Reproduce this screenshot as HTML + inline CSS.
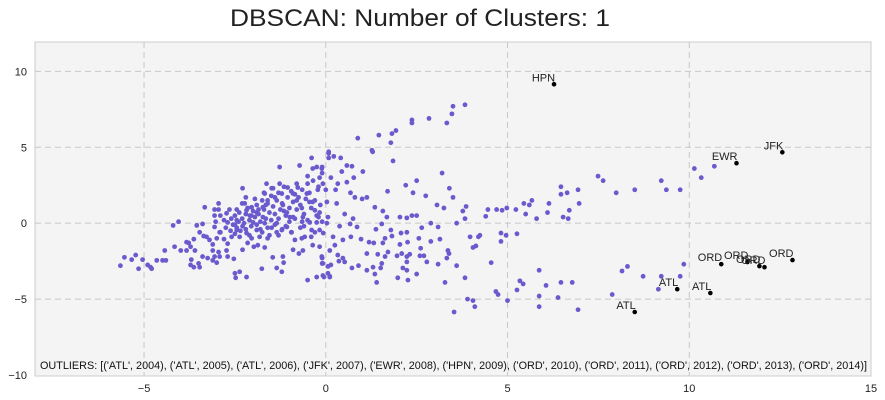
<!DOCTYPE html>
<html><head><meta charset="utf-8"><style>
html,body{margin:0;padding:0;background:#fff;}
svg{display:block;font-family:"Liberation Sans",sans-serif;}
</style></head><body>
<svg id="chart" width="885" height="400" viewBox="0 0 885 400">
<text x="230" y="26" font-size="24" textLength="380" lengthAdjust="spacingAndGlyphs" fill="#222">DBSCAN: Number of Clusters: 1</text>
<rect x="35" y="42" width="836" height="334" fill="#f4f4f4" stroke="#ccc"/>
<g id="grid"></g>
<g id="ticks"></g>
<g id="pts"></g>
<g id="outs"></g>
<text x="40" y="369" font-size="11" textLength="827" lengthAdjust="spacingAndGlyphs" fill="#111">OUTLIERS: [('ATL', 2004), ('ATL', 2005), ('ATL', 2006), ('JFK', 2007), ('EWR', 2008), ('HPN', 2009), ('ORD', 2010), ('ORD', 2011), ('ORD', 2012), ('ORD', 2013), ('ORD', 2014)]</text>
</svg>
<script>
const xTicks=[-5,0,5,10,15];
const yTicks=[10,5,0,-5,-10];
const clusterPoints=[
[0.88,5.6],[1.46,5.8],[1.82,5.9],[1.93,6.1],[1.79,5.3],[1.85,4.1],[1.27,4.8],[1.29,4.7],[2.37,6.8],[2.37,6.6],[2.84,6.9],[3.33,6.6],[3.47,7.2],[3.5,7.7],[3.83,7.8],
[3.2,3.3],[2.5,2.8],[3.4,2.3],[3.5,1.7],[2.75,1.8],[2.2,2.5],[1.7,2.1],[2.4,2.0],[3.06,1.2],[3.25,1.0],[3.86,1.1],[3.77,0.8],[3.83,0.3],[3.6,0],
[4.4,0.45],[4.46,0.9],[4.7,0.9],[4.85,0.85],[4.98,1.0],[5.23,0.9],[5.45,1.3],[5.6,1.2],[5.67,1.5],[5.8,0.3],[5.5,0.6],[6.14,1.3],[6.1,0.7],[6.47,2.4],[6.47,1.9],[6.64,2.0],[6.94,2.2],[6.97,1.3],[6.7,0.85],[6.53,0.4],[6.67,0.3],[7.49,3.1],[7.63,2.8],[7.99,2.0],
[8.5,2.2],[9.23,2.8],[9.37,2.2],[9.75,2.2],[10.14,3.6],[10.33,3.0],[10.69,3.75],
[3.97,-0.9],[4.2,-0.9],[4.24,-0.8],[4.13,-1.5],[4.05,-1.6],[4.82,-0.65],[4.96,-0.8],[4.82,-1.2],[5.26,-0.7],[4.55,-2.6],[3.6,-2.8],[3.36,-1.8],[3.39,-2.0],[3.33,-2.3],[3.09,-2.7],[3.28,-3.9],[3.83,-3.6],[3.9,-5.0],[4.05,-5.1],[4.1,-5.5],[3.53,-5.85],
[4.68,-4.5],[4.74,-4.7],[5.0,-5.1],[5.26,-4.4],[5.34,-3.8],[5.43,-4.0],[5.87,-3.1],[6.06,-4.1],[5.87,-4.8],[5.87,-5.5],[6.39,-4.9],[6.47,-3.9],[6.78,-3.9],[6.94,-5.7],[7.88,-4.7],
[8.15,-3.15],[8.3,-2.85],[8.73,-3.5],[9.23,-3.5],[9.75,-3.5],[9.85,-2.7],[9.15,-4.35],
[1.68,0.4],[1.57,0.8],[1.35,1.05],[1.13,1.7],[1.0,1.6],[0.8,1.7],[0.68,2.0],[1.02,3.4],[0.77,3.0],[0.58,2.7],[0.72,3.75],[0.58,3.8],[0.41,4.3],[0.22,4.4],[0.08,4.7],[0.08,4.3],[0.44,3.4],[0.33,2.6],[0.27,2.2],[0.14,3.0],[0,2.2],[-0.1,3.7],[0.03,1.4],[0.3,1.3],[0.52,0.6],[0.75,0.3],[0.86,-0.25],[0.67,-0.05],[0.38,-0.2],[0.06,0.4],
[-0.07,-0.65],[0.2,-0.9],[0.25,-1.45],[0.47,-1.1],[0.69,-0.9],[0.97,-1.05],[1.19,-1.25],[1.38,-0.4],[1.54,-0.05],[1.79,-0.45],[2.04,0.4],[2.23,0.35],[2.37,0.5],[2.5,0.5],[2.64,-0.3],[2.89,0],[3.09,-0.25],[2.56,-1.0],[2.23,-0.6],[2.07,-0.65],[2.04,-1.4],[2.25,-1.25],[1.82,-0.85],[1.63,-1.0],[1.57,-1.3],[1.32,-1.3],
[1.13,-2.0],[1.43,-2.05],[1.63,-2.2],[1.71,-1.9],[1.96,-2.15],[2.09,-2.0],[2.23,-2.2],[2.31,-2.05],[2.59,-2.15],[2.7,-2.15],[2.78,-2.55],[2.61,-1.65],[2.89,-1.2],[3.14,-1.05],[2.23,-2.55],[2.12,-2.95],[2.23,-3.1],[2.26,-3.75],[2.5,-3.35],[1.98,-3.6],[1.54,-2.65],[1.51,-2.95],[1.3,-2.9],[1.35,-3.35],[1.4,-3.9],[1.13,-3.1],[0.9,-2.8],[0.72,-2.95],[0.52,-2.55],[0.36,-2.5],[0.47,-2.3],[0.33,-2.1],[0.14,-2.75],[0.06,-3.3],[-0.05,-3.55],[0.11,-3.5],[-0.1,-2.65],[-0.1,-2.3],
[-5.65,-2.8],[-5.54,-2.25],[-5.34,-2.4],[-5.23,-2.1],[-5.15,-3.0],[-5.04,-2.4],[-4.9,-2.75],[-4.82,-2.9],[-4.79,-3.0],[-4.65,-2.45],[-4.49,-2.45],[-4.4,-2.45],[-4.43,-1.8],[-4.2,-0.15],[-4.05,0.1],[-4.16,-1.55],[-3.99,-1.8],
[-3.83,-1.25],[-3.77,-1.3],[-3.72,-1.55],[-3.63,-1.05],[-3.6,-1.8],[-3.83,-1.8],[-3.7,-2.4],[-3.72,-2.75],[-3.63,-2.9],[-3.47,-2.9],[-3.5,-2.65],[-3.55,-0.15],[-3.39,-0.05],[-3.47,-0.6],[-3.33,1.05],[-3.36,-0.85],[-3.28,-0.9],[-3.2,-1.1],[-3.39,-2.2],[-3.25,-2.3],[-3.11,-2.45],[-3.0,-2.6],[-3.06,-2.2],[-2.92,-2.2],[-2.95,-1.9],[-3.11,-1.8],[-3.11,-1.4],[-3.0,-1.0],[-2.92,-0.6],[-3.06,-0.25],[-3.03,0.1],[-3.06,0.5],[-2.95,0.9],[-2.95,1.3],[-3.06,0.9],
[-2.73,0.65],[-2.7,0.05],[-2.62,-0.5],[-2.8,-1.05],[-2.7,-1.35],[-2.73,-1.8],[-2.53,-2.35],[-2.7,-2.2],[-2.5,-3.3],[-2.37,-3.2],[-2.48,-3.6],[-2.18,-3.55],[-1.76,-3.0],[-1.46,-2.25],[-1.18,-2.2],[-1.16,-2.6],[-1.35,-2.95],[-1.21,-3.2],
[-2.29,-0.2],[-2.29,2.3],[-2.45,-0.45],[-2.5,-0.1],[-2.45,0.2],[-2.59,-0.9],[-2.37,-0.9],[-2.18,-0.65],[-2.04,-1.0],[-2.15,-1.3],[-2.29,-1.75],[-1.98,-1.55],[-1.87,-1.45],[-1.68,-1.6],[-1.6,-1.0],[-1.82,-0.9],[-1.9,-0.45],[-2.0,0.05],[-2.09,0.5],[-2.18,0.85],[-2.23,1.3],[-2.04,1.05],[-1.9,0.7],[-1.73,0.4],[-1.68,0],[-1.49,-0.3],[-1.35,-0.6],[-1.21,-0.45],[-1.07,-0.25],[-0.94,-0.6],[-0.85,-1.1],[-0.9,-1.75],[-0.66,-1.0],[-0.63,-1.8],[-0.74,-2.0],[-0.58,-0.9],
[-1.73,1.05],[-1.6,1.5],[-1.68,1.95],[-1.63,2.6],[-1.49,2.3],[-1.4,1.7],[-1.27,2.6],[-1.27,3.7],[-1.21,1.95],[-1.18,1.2],[-1.07,0.7],[-0.99,0.4],[-1.05,2.35],[-0.9,1.95],[-0.8,1.5],[-0.77,2.35],[-0.72,3.8],[-0.66,1.0],[-0.63,0.4],[-0.52,1.95],[-0.5,2.6],[-0.39,4.3],[-0.36,3.6],[-0.36,1.4],[-0.3,0.85],[-0.25,3.7],[-0.22,2.2],[-0.17,3.0],[-0.11,3.6],[-0.08,2.6],[-0.17,0.7],[-0.25,0.05],[-0.44,0.05],[-0.39,-0.45],[-0.17,-0.45],[0.03,0],[-0.36,-1.45],[-0.17,-1.55],[-0.11,-2.2],[-0.08,-2.65],[0.11,-1.8],[0.06,-2.85],[-0.5,-3.75],[-0.25,-3.55],[-0.08,-3.45],[0.11,-3.55],[0.08,4.6],
[-2.6,0.3],[-2.55,-0.1],[-2.5,0.5],[-2.45,-0.3],[-2.4,0.1],[-2.38,0.7],[-2.35,-0.5],[-2.3,0.3],[-2.25,0.0],[-2.2,-0.4],[-2.2,0.6],[-2.15,1.0],[-2.1,0.2],[-2.05,-0.2],[-2.0,0.8],[-1.95,0.4],[-1.9,1.2],[-1.9,-0.1],[-1.85,0.6],[-1.8,0.1],[-1.75,1.5],[-1.75,-0.6],[-1.7,0.9],[-1.65,0.3],[-1.6,1.3],[-1.6,-0.3],[-1.55,0.7],[-1.5,1.8],[-1.5,0.2],[-1.45,1.1],[-1.4,-0.1],[-1.4,0.6],[-1.35,1.5],[-1.3,2.0],[-1.3,0.3],[-1.25,0.9],[-1.2,-0.4],[-1.2,1.3],[-1.15,2.4],[-1.1,0.5],[-1.05,1.7],[-1.0,0.1],[-1.0,1.0],[-0.95,2.1],[-0.9,1.4],[-0.85,0.3],[-0.8,2.6],[-0.8,0.9],[-0.75,1.7],[-0.7,-0.3],[-0.7,1.2],[-0.65,2.2],[-0.6,0.6],[-0.55,1.6],[-0.5,3.1],[-0.5,0.2],[-0.45,2.0],[-0.4,1.0],[-0.35,2.8],[-0.3,-0.6],[-0.3,1.5],[-0.25,0.5],[-0.2,2.4],[-0.15,1.2],[-0.1,3.3],[-0.1,0.1],
[-2.9,-0.6],[-2.8,0.2],[-2.75,-0.3],[-2.65,0.9],[-2.9,0.5],[-2.5,-0.7],[-2.3,1.3],[-2.1,-0.8],[-1.95,1.6],[-1.8,-0.4],[-1.7,2.0],[-1.55,-0.8],[-1.45,2.3],[-1.3,-0.8],[-1.1,-0.2],[-0.95,-0.6],[-0.9,0.4],[-0.6,-0.2],[-0.4,-0.9],[-0.2,0.4],[-2.45,0.9],[-2.2,1.7],[-2.05,0.5],[-1.85,0.9],[-1.65,1.2],[-1.35,0.0],[-1.15,0.8],[-0.85,1.9],[-0.65,0.1],[-0.45,1.4]
];
const outNames=["ATL","ATL","ATL","JFK","EWR","HPN","ORD","ORD","ORD","ORD","ORD"];
const outX=[8.5,9.67,10.58,12.56,11.3,6.28,10.88,11.6,11.93,12.07,12.84];
const outY=[-5.85,-4.35,-4.6,4.67,3.95,9.15,-2.7,-2.56,-2.83,-2.9,-2.43];

const X0=35,X1=871,Y0=42,Y1=376,xmin=-8,xmax=15,ymin=-10,ymax=12;
const sx=v=>X0+(v-xmin)/(xmax-xmin)*(X1-X0);
const sy=v=>Y1-(v-ymin)/(ymax-ymin)*(Y1-Y0)-1;
const NS="http://www.w3.org/2000/svg";
function mk(t,a,p){const e=document.createElementNS(NS,t);for(const k in a)e.setAttribute(k,a[k]);p.appendChild(e);return e;}
const g=document.getElementById('grid'),tk=document.getElementById('ticks');
xTicks.forEach(v=>{
  if(v>xmin&&v<xmax){const l=mk('line',{x1:sx(v),x2:sx(v),y1:Y0,y2:Y1,stroke:'#c8c8c8','stroke-dasharray':'6,4'},g);
  
  }
  const t=mk('text',{x:sx(v),y:392,'font-size':11,'text-anchor':'middle',fill:'#222'},tk);
  t.textContent=v<0?'\u2212'+(-v):v;
  
  
});
yTicks.forEach(v=>{
  if(v>ymin&&v<ymax){const l=mk('line',{x1:X0,x2:X1,y1:sy(v),y2:sy(v),stroke:'#c8c8c8','stroke-dasharray':'6,4'},g);
  
  }
  const t=mk('text',{x:27,y:sy(v)+4,'font-size':11,'text-anchor':'end',fill:'#222'},tk);
  t.textContent=v<0?'\u2212'+(-v):v;
  
  
});
const pg=document.getElementById('pts');
clusterPoints.forEach(p=>{
  const c=mk('circle',{cx:sx(p[0]),cy:sy(p[1]),r:2.4,fill:'#6a5acd'},pg);
  
  
});
const og=document.getElementById('outs');
outX.forEach((x,i)=>{
  const c=mk('circle',{cx:sx(x),cy:sy(outY[i]),r:2.3,fill:'#000'},og);
  
  
  const t=mk('text',{x:sx(x)+1,y:sy(outY[i])-3,'font-size':11,'text-anchor':'end',fill:'#222'},og);
  t.textContent=outNames[i];
  
  
});
</script>
</body></html>
